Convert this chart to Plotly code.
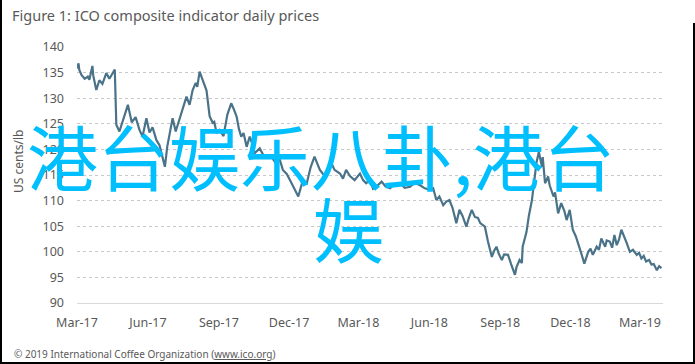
import plotly.graph_objects as go

dates = [
    "2017-03-01","2017-03-03","2017-03-04","2017-03-07","2017-03-11","2017-03-15","2017-03-17","2017-03-21","2017-03-22","2017-03-26",
    "2017-03-30","2017-04-03","2017-04-08","2017-04-12","2017-04-19","2017-04-21","2017-04-25","2017-04-29","2017-05-06","2017-05-11",
    "2017-05-16","2017-05-21","2017-05-25","2017-05-30","2017-06-03","2017-06-07","2017-06-12","2017-06-16","2017-06-20","2017-06-23",
    "2017-06-26","2017-06-29","2017-07-03","2017-07-07","2017-07-14","2017-07-17","2017-07-21","2017-07-25","2017-07-29","2017-08-02",
    "2017-08-04","2017-08-07","2017-08-10","2017-08-13","2017-08-16","2017-08-20","2017-08-24","2017-08-26","2017-08-29","2017-09-02",
    "2017-09-07","2017-09-12","2017-09-17","2017-09-20","2017-09-24","2017-09-27","2017-09-30","2017-10-03","2017-10-07","2017-10-11",
    "2017-10-15","2017-10-17","2017-10-24","2017-10-30","2017-11-08","2017-11-14","2017-11-19","2017-11-23","2017-11-28","2017-12-03",
    "2017-12-07","2017-12-13","2017-12-16","2017-12-19","2017-12-24","2017-12-29","2018-01-03","2018-01-07","2018-01-10","2018-01-14",
    "2018-01-18","2018-01-21","2018-01-25","2018-01-29","2018-02-05","2018-02-09","2018-02-13","2018-02-18","2018-02-24","2018-03-03",
    "2018-03-07","2018-03-11","2018-03-16","2018-03-20","2018-03-24","2018-03-31","2018-04-05","2018-04-11","2018-04-17","2018-04-24",
    "2018-04-30","2018-05-07","2018-05-13","2018-05-20","2018-05-26","2018-06-02","2018-06-06","2018-06-10","2018-06-14","2018-06-19",
    "2018-06-23","2018-06-27","2018-07-01","2018-07-06","2018-07-10","2018-07-14","2018-07-19","2018-07-22","2018-07-26","2018-07-30",
    "2018-08-03","2018-08-06","2018-08-12","2018-08-16","2018-08-21","2018-08-24","2018-08-27","2018-08-30","2018-09-03","2018-09-06",
    "2018-09-11","2018-09-15","2018-09-20","2018-09-22","2018-09-26","2018-09-29","2018-09-30","2018-10-05","2018-10-08","2018-10-12",
    "2018-10-15","2018-10-18","2018-10-21","2018-10-25","2018-10-26","2018-10-29","2018-11-02","2018-11-04","2018-11-09","2018-11-11",
    "2018-11-15","2018-11-19","2018-11-23","2018-11-26","2018-11-30","2018-12-04","2018-12-08","2018-12-11","2018-12-15","2018-12-19",
    "2018-12-24","2018-12-27","2018-12-30","2019-01-04","2019-01-07","2019-01-10","2019-01-15","2019-01-17","2019-01-21","2019-01-24",
    "2019-01-27","2019-01-30","2019-02-02","2019-02-05","2019-02-08","2019-02-12","2019-02-16","2019-02-20","2019-02-25","2019-02-28",
    "2019-03-03","2019-03-06","2019-03-09","2019-03-13","2019-03-16","2019-03-19","2019-03-23","2019-03-26","2019-03-29",
]
prices = [
    135.8,136.8,135.5,134.5,133.8,134.2,133.6,136.3,134.5,131.6,
    133.5,132.8,134.9,133.8,135.6,124.8,123.5,125.5,128.7,125.3,
    126.3,123.8,122.5,126.1,123.3,124.3,121.8,120.8,118.5,116.6,
    120.5,122.8,126.1,123.5,126.7,128.4,130.3,128.7,131.6,133.0,
    132.2,135.2,134.0,132.9,131.5,126.5,125.2,125.4,123.2,123.8,
    122.6,126.8,129.0,128.0,126.4,124.0,122.5,123.2,120.5,122.5,
    120.8,119.2,120.2,118.5,118.6,117.3,118.0,116.0,115.2,113.8,
    112.7,110.8,112.4,114.0,113.4,116.5,118.6,117.0,116.0,115.2,
    114.7,116.0,117.3,116.0,115.3,114.3,116.0,114.8,114.0,115.3,
    114.0,113.4,114.0,112.3,112.7,113.7,112.8,112.4,113.2,113.4,
    112.5,112.7,113.5,113.0,112.4,112.1,112.4,110.1,110.8,109.1,
    109.8,110.1,108.6,105.6,108.2,107.0,104.9,106.5,108.2,106.8,
    106.6,105.6,104.9,102.0,99.0,100.2,101.0,99.6,98.4,99.5,
    99.4,97.6,95.5,97.0,98.4,97.8,101.0,103.9,107.0,110.1,
    114.0,117.5,119.5,116.6,118.5,113.4,114.7,113.0,110.8,111.6,
    107.5,109.5,108.0,106.2,108.2,104.3,103.0,101.7,99.7,97.7,
    100.0,100.6,99.4,101.0,100.4,102.6,101.0,102.2,102.0,100.8,
    103.3,101.3,102.4,104.3,103.0,101.7,100.0,100.4,99.4,99.8,
    98.7,99.2,98.1,98.4,97.5,97.6,96.4,97.2,96.8,
]

tick_dates = ["2017-03-01","2017-06-01","2017-09-01","2017-12-01","2018-03-01",
              "2018-06-01","2018-09-01","2018-12-01","2019-03-01"]
tick_labels = ["Mar-17","Jun-17","Sep-17","Dec-17","Mar-18","Jun-18","Sep-18","Dec-18","Mar-19"]
y_ticks = [90, 95, 100, 105, 110, 115, 120, 125, 130, 135, 140]

title_text = "Figure 1: ICO composite indicator daily prices"
y_title = "US cents/lb"
footer_text = "© 2019 International Coffee Organization (<u>www.ico.org</u>)"
watermark_line1 = "港台娱乐八卦,港台"
watermark_line2 = "娱"

W, H = 695, 364
L, R, T, B = 77, 32, 47, 61
pw, ph = W - L - R, H - T - B

def px(x):
    return (x - L) / pw

def py(y):
    return (H - B - y) / ph

fig = go.Figure()
fig.add_trace(go.Scatter(
    x=dates, y=prices, mode="lines",
    line=dict(color="#4a7389", width=2.2),
    hoverinfo="skip", showlegend=False,
))

tick_font = dict(family="Noto Sans, Liberation Sans, sans-serif", size=12.5, color="#595959")

fig.update_layout(
    width=W, height=H,
    margin=dict(l=L, r=R, t=T, b=B),
    paper_bgcolor="white", plot_bgcolor="white",
    showlegend=False,
    xaxis=dict(
        type="date",
        range=["2017-03-01", "2019-03-31"],
        tickvals=tick_dates, ticktext=tick_labels,
        showgrid=False, zeroline=False,
        showline=True, linecolor="#d9d9d9", linewidth=1,
        ticks="", tickfont=tick_font, ticklabelstandoff=8,
        fixedrange=True,
    ),
    yaxis=dict(
        range=[90, 140],
        tickvals=y_ticks,
        showgrid=True, gridcolor="#c8c8c8", griddash="dot", gridwidth=1,
        zeroline=False, showline=False,
        ticks="", tickfont=tick_font, ticklabelstandoff=12,
        fixedrange=True,
    ),
)

annotations = [
    dict(text=title_text, xref="paper", yref="paper", x=px(10), y=py(15),
         xanchor="left", yanchor="middle", showarrow=False,
         font=dict(family="Noto Sans, sans-serif", size=14.5, color="#595959")),
    dict(text=y_title, xref="paper", yref="paper", x=px(18), y=py(162),
         xanchor="center", yanchor="middle", showarrow=False, textangle=-90,
         font=dict(family="Noto Sans, sans-serif", size=12, color="#595959")),
    dict(text=footer_text, xref="paper", yref="paper", x=px(12), y=py(354),
         xanchor="left", yanchor="middle", showarrow=False,
         font=dict(family="Noto Sans, sans-serif", size=10, color="#595959")),
    dict(text=watermark_line1, xref="paper", yref="paper", x=px(321), y=py(154),
         xanchor="center", yanchor="middle", showarrow=False,
         font=dict(family="Noto Sans CJK SC", size=71, color="#00bfff")),
    dict(text=watermark_line2, xref="paper", yref="paper", x=px(348), y=py(226),
         xanchor="center", yanchor="middle", showarrow=False,
         font=dict(family="Noto Sans CJK SC", size=71, color="#00bfff")),
]
fig.update_layout(annotations=annotations)

border = dict(color="black", width=2)
fig.update_layout(shapes=[
    dict(type="line", xref="paper", yref="paper", x0=px(1), x1=px(1), y0=py(0), y1=py(364), line=border),
    dict(type="line", xref="paper", yref="paper", x0=px(694), x1=px(694), y0=py(23), y1=py(364), line=border),
    dict(type="line", xref="paper", yref="paper", x0=px(0), x1=px(695), y0=py(363), y1=py(363), line=border),
])

fig.write_html("out.html", config={"displayModeBar": False},
               post_script="document.body.style.margin='0';document.body.style.overflow='hidden';")
